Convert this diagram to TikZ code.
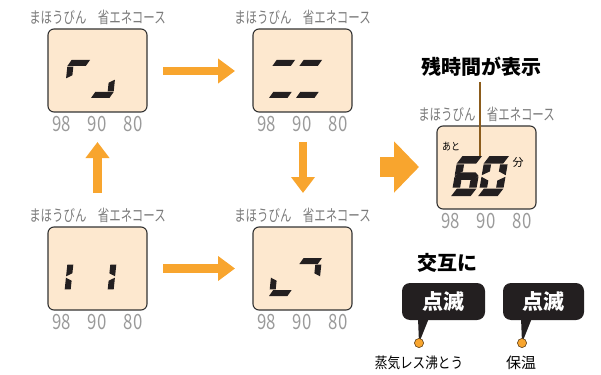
\documentclass[tikz,border=0pt]{standalone}
\usepackage{fontspec}
\usepackage{graphicx}
\newfontfamily\jp{Noto Sans CJK JP}
\usetikzlibrary{arrows.meta}
\definecolor{orng}{HTML}{F8A52E}
\definecolor{peach}{HTML}{FDE8CF}
\definecolor{lblgray}{HTML}{7B7B7B}
\definecolor{numgray}{HTML}{9A9A9A}
\definecolor{brn}{HTML}{8C5C1C}
\definecolor{ink}{HTML}{231F20}
\definecolor{frame}{HTML}{333333}
% LCD segment geometry (local u right, w down)
\def\dW{22}\def\dH{38}\def\dt{6}\def\dg{0.7}\def\dsl{0.105}
\def\lcdsega{\fill[segfill] (0.6*\dt,0) -- (\dW,0) -- (\dW-0.6*\dt,\dt) -- (0,\dt) -- cycle;}
\def\lcdsegd{\fill[segfill] (0.6*\dt,\dH-\dt) -- (\dW,\dH-\dt) -- (\dW-0.6*\dt,\dH) -- (0,\dH) -- cycle;}
\def\lcdsegg{\fill[segfill] (0,\dH/2) -- (\dt/2,\dH/2-\dt/2) -- (\dW-\dt/2,\dH/2-\dt/2) -- (\dW,\dH/2) -- (\dW-\dt/2,\dH/2+\dt/2) -- (\dt/2,\dH/2+\dt/2) -- cycle;}
\def\lcdsegf{\fill[segfill] (0,\dt+\dg) -- (\dt,\dt+\dg) -- (\dt,\dH/2-\dt/2-\dg) -- (0,\dH/2-\dg) -- cycle;}
\def\lcdsege{\fill[segfill] (0,\dH/2+\dg) -- (\dt,\dH/2+\dt/2+\dg) -- (\dt,\dH-\dt-\dg) -- (0,\dH-\dt-\dg) -- cycle;}
\def\lcdsegb{\fill[segfill] (\dW-\dt,\dt+\dg) -- (\dW,\dt+\dg) -- (\dW,\dH/2-\dg) -- (\dW-\dt,\dH/2-\dt/2-\dg) -- cycle;}
\def\lcdsegc{\fill[segfill] (\dW,\dH/2+\dg) -- (\dW,\dH-\dt-\dg) -- (\dW-\dt,\dH-\dt-\dg) -- (\dW-\dt,\dH/2+\dt/2+\dg) -- cycle;}
\newcommand\lcddigit[3]{%
  \begin{scope}[shift={(#1,#2)}]\begin{scope}[xslant=\dsl]
    \foreach \s in {#3}{\csname lcdseg\s\endcsname}
  \end{scope}\end{scope}}
\newcommand\panelbox[3]{% name, left, top
  \node[panel] (#1) at (#2+49.5,#3+41.5) {};
  \node[lbl] (#1l) at (#2+49.5,#3-12) {\scalebox{0.715}[1]{まほうびん　省エネコース}};
  \node[num] (#1a) at (#2+13.5,#3+95) {\scalebox{0.8}[1]{98}};
  \node[num] (#1b) at (#2+49,#3+95) {\scalebox{0.8}[1]{90}};
  \node[num] (#1c) at (#2+85,#3+95) {\scalebox{0.8}[1]{80}};
}
\begin{document}
\begin{tikzpicture}[x=1pt,y=-1pt,
  panel/.style={draw=frame,line width=1.1pt,fill=peach,rounded corners=6pt,minimum width=99pt,minimum height=83pt,inner sep=0pt},
  lbl/.style={text=lblgray,font=\jp\fontsize{16}{16}\selectfont,inner sep=0pt},
  num/.style={text=numgray,font=\jp\fontsize{21}{21}\selectfont,inner sep=0pt},
  segfill/.style={fill=ink},
  arr/.style={draw=orng,line width=8.5pt,-{Triangle[length=17pt,width=24pt]}},
  bigarr/.style={draw=orng,line width=20pt,-{Triangle[length=25pt,width=50pt]}},
  callout/.style={fill=ink,rounded corners=8pt,minimum width=83pt,minimum height=37pt,inner sep=0pt,text=white,font=\jp\bfseries\fontsize{21}{21}\selectfont},
  dot/.style={circle,fill=orng,draw=ink!70!orng,line width=0.5pt,minimum size=9pt,inner sep=0pt},
  head/.style={font=\jp\bfseries\fontsize{20}{20}\selectfont,inner sep=0pt},
  small/.style={font=\jp\fontsize{15}{15}\selectfont,inner sep=0pt}
]
\useasboundingbox (0,0) rectangle (601,374);
% panels
\panelbox{p1}{48}{29}
\panelbox{p2}{253}{29}
\panelbox{p3}{48}{227}
\panelbox{p4}{253}{227}
\panelbox{p5}{437}{126}
% small LCD digits
\lcddigit{68}{60}{a,f}   \lcddigit{95}{60}{c,d}
\lcddigit{273}{60}{a,d}  \lcddigit{300}{60}{a,d}
\lcddigit{68}{258}{f,e}  \lcddigit{95}{258}{b,c}
\lcddigit{273}{258}{e,d} \lcddigit{300}{258}{a,b}
% big 60
\begingroup
\def\dW{24}\def\dH{40}\def\dt{7.5}\def\dg{0.8}\def\dsl{0.17}
\lcddigit{458}{156}{a,f,g,e,d,c}
\lcddigit{485}{156}{a,b,c,d,e,f}
\endgroup
\node[inner sep=0pt,font=\jp\fontsize{10.5}{10.5}\selectfont] (ato) at (451,147) {\scalebox{0.85}[1]{あと}};
\node[inner sep=0pt,font=\jp\fontsize{11}{11}\selectfont] (fun) at (518,162) {分};
% title + pointer line
\node[head] (title) at (481,67) {残時間が表示};
\coordinate (lt) at (480,82);
\coordinate (lb) at (480,156);
\draw[brn,line width=2pt] (lt) -- (lb);
% arrows
\coordinate (a1s) at (163,71);    \coordinate (a1e) at (235,71);
\coordinate (a2s) at (303,142);   \coordinate (a2e) at (303,193);
\coordinate (a3s) at (163,268.5); \coordinate (a3e) at (235,268.5);
\coordinate (a4s) at (97.5,193);  \coordinate (a4e) at (97.5,142);
\coordinate (a5s) at (380,167);   \coordinate (a5e) at (419,167);
\draw[arr] (a1s) -- (a1e);
\draw[arr,-{Triangle[length=16pt,width=23pt]}] (a2s) -- (a2e);
\draw[arr] (a3s) -- (a3e);
\draw[arr,-{Triangle[length=16pt,width=23pt]}] (a4s) -- (a4e);
\draw[bigarr] (a5s) -- (a5e);
% legend
\node[head] (alt) at (447,263) {交互に};
\node[callout] (c1) at (443.5,301.5) {点滅};
\node[callout,minimum width=81pt] (c2) at (543.5,301.5) {点滅};
\node[dot] (d1) at (419,343) {};
\node[dot] (d2) at (522,343) {};
\fill[ink] (418,318) -- (429,318) -- (d1.center) -- cycle;
\fill[ink] (521,318) -- (532,318) -- (d2.center) -- cycle;
\node[dot] at (d1) {};
\node[dot] at (d2) {};
\node[small] (t1) at (419,363) {\scalebox{0.84}[1]{蒸気レス沸とう}};
\node[small] (t2) at (521,363) {保温};
\end{tikzpicture}
\end{document}
